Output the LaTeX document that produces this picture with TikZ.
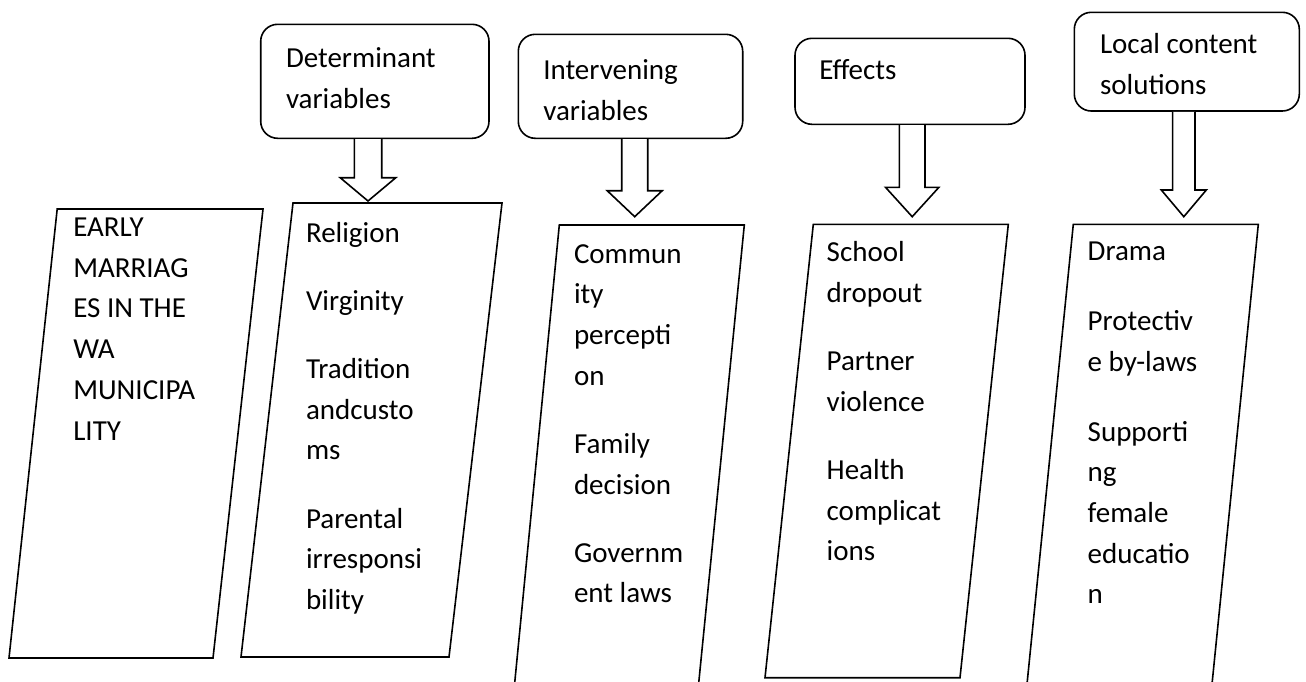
\documentclass[tikz,border=0pt]{standalone}
\usepackage{fontspec}
\setmainfont{Carlito}
\usetikzlibrary{calc}
\tikzset{
  hdr/.style={draw, rounded corners=17pt, line width=1.6pt, inner sep=0pt},
  outl/.style={draw, line width=1.6pt, line join=miter},
  barrow/.style={draw, fill=white, line width=1.6pt, line join=miter},
  txt/.style={anchor=north west, inner sep=0pt, outer sep=0pt, align=left,
              font=\fontsize{29}{40.7}\selectfont}
}
\newcommand\blockarr[5]{%
  \draw[barrow] ($(#2 |- #1.south)+(-#3,0)$) -- ($(#2)+(-#3,-#5)$) -- ($(#2)+(-#4,-#5)$)
     -- (#2) -- ($(#2)+(#4,-#5)$) -- ($(#2)+(#3,-#5)$) -- ($(#2 |- #1.south)+(#3,0)$);}
\begin{document}
\begin{tikzpicture}[x=1pt,y=-1pt]
\useasboundingbox (0,0) rectangle (1306,681);
\clip (0,0) rectangle (1306,681);

% ---------- parallelograms ----------
\coordinate (pE1) at (57.2,209);   \coordinate (pE2) at (263,209);
\coordinate (pE3) at (213,658);  \coordinate (pE4) at (9,658);
\draw[outl] (pE1) -- (pE2) -- (pE3) -- (pE4) -- cycle;

\coordinate (pA1) at (293,203);  \coordinate (pA2) at (502,203);
\coordinate (pA3) at (449,657);  \coordinate (pA4) at (241,657);
\draw[outl] (pA1) -- (pA2) -- (pA3) -- (pA4) -- cycle;

\coordinate (pB1) at (559.3,225); \coordinate (pB2) at (744.3,225);
\coordinate (pB3) at (698,690);   \coordinate (pB4) at (514,690);
\draw[outl] (pB4) -- (pB1) -- (pB2) -- (pB3);

\coordinate (pC1) at (813.3,224.3); \coordinate (pC2) at (1008.3,224.3);
\coordinate (pC3) at (960,677.7);   \coordinate (pC4) at (765,677.7);
\draw[outl] (pC1) -- (pC2) -- (pC3) -- (pC4) -- cycle;

\coordinate (pD1) at (1073.3,224.3); \coordinate (pD2) at (1258.3,224.3);
\coordinate (pD3) at (1211.4,690);   \coordinate (pD4) at (1026.4,690);
\draw[outl] (pD4) -- (pD1) -- (pD2) -- (pD3);

% ---------- header boxes ----------
\node[hdr, minimum width=228.3pt, minimum height=114pt] (hA) at (374.85,81.3) {};
\node[hdr, minimum width=224.4pt, minimum height=104pt] (hB) at (630.5,86.3) {};
\node[hdr, minimum width=230pt, minimum height=86pt] (hC) at (910,81.3) {};
\node[hdr, minimum width=225pt, minimum height=98.7pt] (hD) at (1186.8,61.65) {};

\node[txt] (thA) at (286,39.5) {\strut Determinant\\variables};
\node[txt] (thB) at (543.3,51.3) {\strut Intervening\\variables};
\node[txt] (thC) at (819.3,51.5) {\strut Effects};
\node[txt] (thD) at (1100,25.5) {\strut Local content\\solutions};

% ---------- arrows ----------
\coordinate (tA) at (368,201);
\coordinate (tB) at (634.7,216.7);
\coordinate (tC) at (912.2,216.7);
\coordinate (tD) at (1183.8,216.7);
\blockarr{hA}{tA}{13.7}{27.8}{23.3}
\blockarr{hB}{tB}{13}{27.5}{26}
\blockarr{hC}{tC}{12.8}{26.7}{29.4}
\blockarr{hD}{tD}{11.2}{22.5}{26.7}

% ---------- column texts ----------
\node[txt] (tE) at (73.3,208) {\strut EARLY\\MARRIAG\\ES IN THE\\WA\\MUNICIPA\\LITY};
\node[txt] (tRa) at (306,213.5) {\strut Religion\\[27.5pt]Virginity\\[27.5pt]Tradition\\andcusto\\ms\\[27.5pt]Parental\\irresponsi\\bility};
\node[txt] (tRb) at (574,234.5) {\strut Commun\\ity\\percepti\\on\\[27.5pt]Family\\decision\\[27.5pt]Governm\\ent laws};
\node[txt] (tRc) at (826.7,233.2) {\strut School\\dropout\\[27.5pt]Partner\\violence\\[27.5pt]Health\\complicat\\ions};
\node[txt] (tRd) at (1087.7,231.5) {\strut Drama\\[30pt]Protectiv\\e by-laws\\[29pt]Supporti\\ng\\female\\educatio\\n};
\end{tikzpicture}
\end{document}
